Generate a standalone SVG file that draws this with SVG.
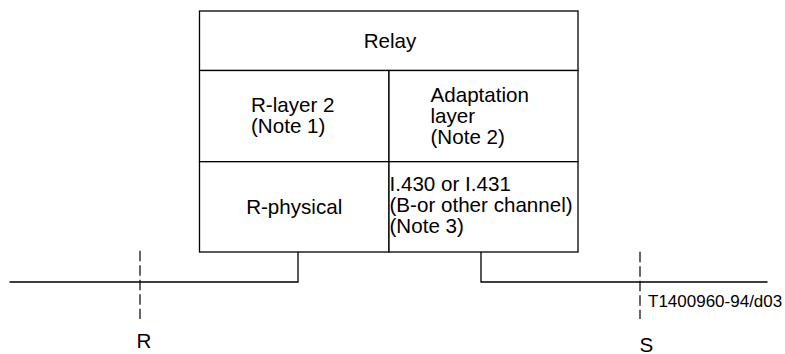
<svg xmlns="http://www.w3.org/2000/svg" width="785" height="354" viewBox="0 0 785 354">
<style>
.cell{fill:#fff;stroke:#000;stroke-width:1.3}
.ln{fill:none;stroke:#000;stroke-width:1.3}
.dash{fill:none;stroke:#000;stroke-width:1.2;stroke-dasharray:10.5 4}
text{font-family:"Liberation Sans",Arial,sans-serif;font-size:20.6px;fill:#000}
.small{font-size:17px}
</style>
<rect width="785" height="354" fill="#fff"/>
<g id="relay">
<rect class="cell" x="199.5" y="11" width="378.5" height="59.5"/>
<text x="390" y="47.7" text-anchor="middle">Relay</text>
</g>
<g id="r-layer2">
<rect class="cell" x="199.5" y="70.5" width="189.5" height="91.2"/>
<text x="251" y="111.7">R-layer 2</text>
<text x="251" y="132.5">(Note 1)</text>
</g>
<g id="adaptation">
<rect class="cell" x="389" y="70.5" width="189" height="91.2"/>
<text x="430.5" y="101.7">Adaptation</text>
<text x="430.5" y="122.5">layer</text>
<text x="430.5" y="143.5">(Note 2)</text>
</g>
<g id="r-physical">
<rect class="cell" x="199.5" y="161.7" width="189.5" height="90.3"/>
<text x="294.2" y="214.3" text-anchor="middle">R-physical</text>
</g>
<g id="i430">
<rect class="cell" x="389" y="161.7" width="189" height="90.3"/>
<text x="389.5" y="190.5">I.430 or I.431</text>
<text x="389.5" y="211.5">(B-or other channel)</text>
<text x="389.5" y="232.5">(Note 3)</text>
</g>
<g id="connectors">
<polyline class="ln" points="9.5,282 298,282 298,252"/>
<polyline class="ln" points="481,252 481,282 767.5,282"/>
<line class="dash" x1="140" y1="250.7" x2="140" y2="319"/>
<line class="dash" x1="640" y1="251.7" x2="640" y2="319"/>
</g>
<g id="labels">
<text x="136.5" y="348">R</text>
<text x="639.5" y="351.5">S</text>
<text class="small" x="648" y="307.3">T1400960-94/d03</text>
</g>
</svg>
